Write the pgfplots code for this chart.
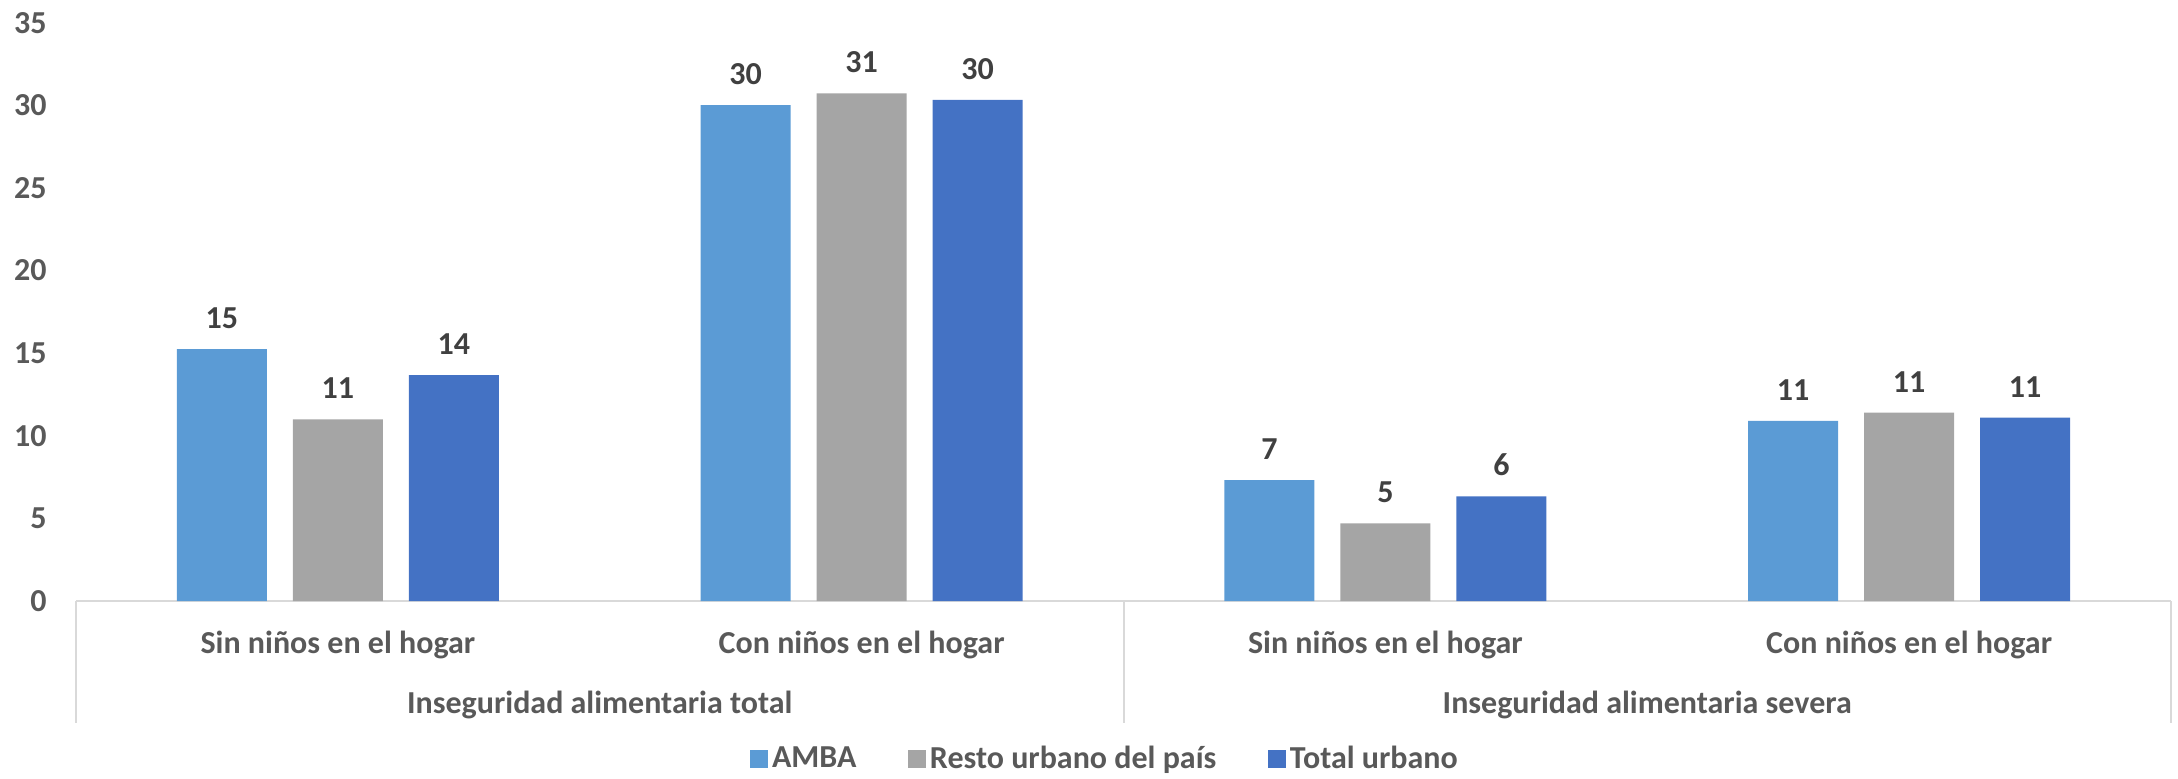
\documentclass[border=0pt]{standalone}
\usepackage{fontspec}
\setmainfont{Carlito}
\usepackage{pgfplots}
\pgfplotsset{compat=1.18}
\definecolor{amba}{HTML}{5B9BD5}
\definecolor{resto}{HTML}{A5A5A5}
\definecolor{total}{HTML}{4472C4}
\definecolor{ticktxt}{HTML}{595959}
\definecolor{lbltxt}{HTML}{404040}
\definecolor{axisgray}{HTML}{D9D9D9}
\newcommand{\lblfont}{\bfseries\fontsize{16}{19}\selectfont}
\begin{document}
\begin{tikzpicture}
\useasboundingbox (0,0) rectangle (1089pt,389pt);
\begin{axis}[
  at={(38pt,88.5pt)}, anchor=south west,
  scale only axis, width=1047.5pt, height=289.1pt,
  xmin=-0.5, xmax=3.5, ymin=0, ymax=35,
  ybar=13pt, bar width=45pt,
  axis x line*=bottom, axis y line*=left,
  x axis line style={draw=axisgray, line width=1pt, -},
  y axis line style={draw=none},
  xtick=\empty, ytick={0,5,...,35},
  major tick length=0pt,
  /pgf/number format/assume math mode=true,
  yticklabel style={font=\lblfont, text=ticktxt, inner sep=0pt, xshift=-14.5pt},
  nodes near coords={\pgfmathprintnumber[fixed,precision=0,assume math mode=true]{\pgfplotspointmeta}},
  nodes near coords style={font=\lblfont, text=lbltxt, anchor=south, inner sep=0pt, yshift=10pt},
  legend columns=3,
  legend style={draw=none, fill=none, at={(0.4917,0)}, anchor=center, yshift=-79pt,
    font=\lblfont\color{ticktxt},
    /tikz/every even column/.append style={column sep=24pt}},
  legend image code/.code={\fill (0pt,-4.6pt) rectangle (8.8pt,4.6pt);},
  clip=false,
]
\addplot[fill=amba, draw=none] coordinates {(0,15.25) (1,30.02) (2,7.32) (3,10.90)};
\addlegendentry{AMBA}
\addplot[fill=resto, draw=none] coordinates {(0,11.0) (1,30.73) (2,4.70) (3,11.40)};
\addlegendentry{Resto urbano del país}
\addplot[fill=total, draw=none] coordinates {(0,13.68) (1,30.33) (2,6.34) (3,11.10)};
\addlegendentry{Total urbano}

\draw[axisgray, line width=1pt] (axis cs:-0.5,0) -- ([yshift=-61pt]axis cs:-0.5,0);
\draw[axisgray, line width=1pt] (axis cs:1.5,0) -- ([yshift=-61pt]axis cs:1.5,0);
\draw[axisgray, line width=1pt] (axis cs:3.5,0) -- ([yshift=-61pt]axis cs:3.5,0);

\node[font=\lblfont, text=ticktxt, inner sep=0pt] at ([yshift=-22pt]axis cs:0,0) {Sin niños en el hogar};
\node[font=\lblfont, text=ticktxt, inner sep=0pt] at ([yshift=-22pt]axis cs:1,0) {Con niños en el hogar};
\node[font=\lblfont, text=ticktxt, inner sep=0pt] at ([yshift=-22pt]axis cs:2,0) {Sin niños en el hogar};
\node[font=\lblfont, text=ticktxt, inner sep=0pt] at ([yshift=-22pt]axis cs:3,0) {Con niños en el hogar};
\node[font=\lblfont, text=ticktxt, inner sep=0pt] at ([yshift=-52pt]axis cs:0.5,0) {Inseguridad alimentaria total};
\node[font=\lblfont, text=ticktxt, inner sep=0pt] at ([yshift=-52pt]axis cs:2.5,0) {Inseguridad alimentaria severa};
\end{axis}
\end{tikzpicture}
\end{document}
